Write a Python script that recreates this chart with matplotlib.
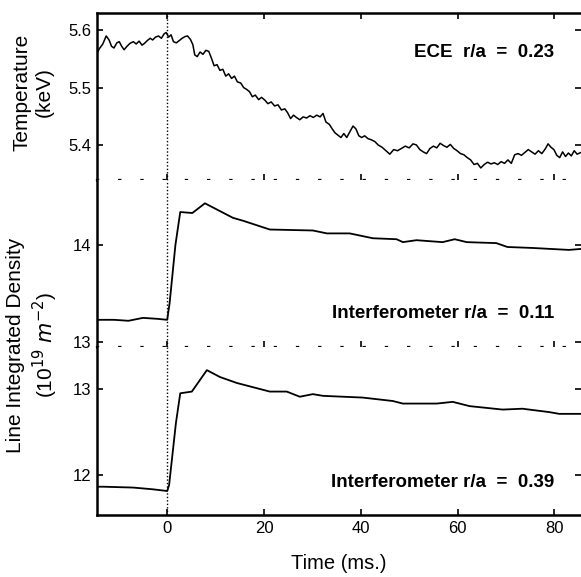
import matplotlib
matplotlib.use("Agg")
import matplotlib.pyplot as plt

plt.rcParams['font.family'] = ['Liberation Sans', 'DejaVu Sans']

# ECE temperature, r/a = 0.23 (keV)
t_ece = [-14.5, -14.0, -13.3, -12.6, -12.0, -11.5, -11.0, -10.4, -9.9, -9.4,
         -8.9, -8.3, -7.7, -7.0, -6.4, -5.8, -5.2, -4.7, -4.1, -3.5,
         -3.0, -2.4, -1.8, -1.2, -0.6, -0.2, 0.3, 0.8, 1.3, 1.9,
         2.5, 3.1, 3.7, 4.2, 4.8, 5.3, 5.7, 6.2, 6.8, 7.4,
         8.0, 8.6, 9.2, 9.7, 10.3, 10.9, 11.5, 12.1, 12.7, 13.3,
         13.9, 14.5, 15.2, 15.8, 16.4, 17.0, 17.6, 18.2, 18.9, 19.5,
         20.2, 20.8, 21.5, 22.2, 22.9, 23.6, 24.3, 24.9, 25.5, 26.1,
         26.7, 27.4, 28.1, 28.8, 29.5, 30.2, 30.9, 31.6, 32.2, 32.8,
         33.5, 34.1, 34.7, 35.3, 35.9, 36.5, 37.1, 37.8, 38.4, 39.0,
         39.6, 40.2, 40.8, 41.5, 42.2, 42.9, 43.6, 44.4, 45.2, 46.0,
         46.8, 47.6, 48.4, 49.2, 50.0, 50.8, 51.5, 52.2, 52.9, 53.6,
         54.3, 55.0, 55.7, 56.4, 57.1, 57.8, 58.5, 59.2, 59.9, 60.6,
         61.3, 62.0, 62.7, 63.4, 64.1, 64.8, 65.5, 66.2, 66.9, 67.6,
         68.3, 69.0, 69.7, 70.4, 71.1, 71.8, 72.5, 73.2, 73.9, 74.6,
         75.3, 76.0, 76.7, 77.4, 78.1, 78.7, 79.3, 79.9, 80.5, 81.1,
         81.7, 82.3, 82.9, 83.5, 84.1, 84.7, 85.5]
T_ece = [5.560, 5.568, 5.576, 5.590, 5.583, 5.572, 5.569, 5.578, 5.580, 5.572,
         5.566, 5.572, 5.577, 5.580, 5.576, 5.581, 5.574, 5.577, 5.582, 5.586,
         5.583, 5.588, 5.590, 5.586, 5.594, 5.596, 5.588, 5.592, 5.580, 5.578,
         5.582, 5.586, 5.589, 5.590, 5.584, 5.575, 5.557, 5.554, 5.562, 5.558,
         5.565, 5.563, 5.550, 5.538, 5.540, 5.530, 5.532, 5.520, 5.524, 5.516,
         5.520, 5.510, 5.508, 5.500, 5.497, 5.493, 5.484, 5.487, 5.479, 5.483,
         5.478, 5.472, 5.475, 5.468, 5.470, 5.461, 5.463, 5.456, 5.446, 5.452,
         5.448, 5.444, 5.449, 5.447, 5.451, 5.448, 5.452, 5.449, 5.455, 5.440,
         5.436, 5.428, 5.421, 5.417, 5.413, 5.420, 5.413, 5.424, 5.433, 5.428,
         5.416, 5.413, 5.416, 5.411, 5.409, 5.406, 5.400, 5.396, 5.390, 5.384,
         5.392, 5.390, 5.394, 5.398, 5.395, 5.402, 5.400, 5.392, 5.388, 5.385,
         5.394, 5.398, 5.395, 5.403, 5.399, 5.396, 5.401, 5.394, 5.390, 5.385,
         5.383, 5.378, 5.374, 5.366, 5.368, 5.360, 5.366, 5.370, 5.367, 5.369,
         5.366, 5.371, 5.368, 5.374, 5.368, 5.383, 5.385, 5.382, 5.387, 5.392,
         5.388, 5.384, 5.390, 5.385, 5.393, 5.402, 5.396, 5.392, 5.382, 5.378,
         5.388, 5.380, 5.386, 5.381, 5.390, 5.384, 5.387]

# Interferometer r/a = 0.11 (10^19 m^-2)
t_n1 = [-14.5, -11.0, -8.0, -5.0, -2.0, 0.0, 0.5, 1.7, 2.7, 5.2,
        7.8, 13.6, 15.7, 21.2, 30.1, 33.0, 37.7, 42.5, 47.4, 48.7,
        51.5, 56.9, 59.4, 61.9, 68.0, 70.3, 75.5, 83.0, 85.5]
n1 = [13.23, 13.23, 13.22, 13.25, 13.24, 13.23, 13.40, 14.00, 14.34, 14.33,
      14.43, 14.28, 14.25, 14.16, 14.15, 14.12, 14.12, 14.07, 14.06, 14.03,
      14.05, 14.03, 14.06, 14.03, 14.02, 13.98, 13.97, 13.95, 13.96]

# Interferometer r/a = 0.39 (10^19 m^-2)
t_n2 = [-14.5, -13.2, -7.0, -3.0, 0.0, 0.4, 1.8, 2.7, 5.1, 8.2,
        10.9, 14.4, 21.2, 24.7, 27.4, 30.1, 32.2, 40.4, 46.6, 48.7,
        55.7, 59.0, 62.5, 69.3, 73.4, 79.0, 81.0, 85.5]
n2 = [11.86, 11.86, 11.85, 11.83, 11.81, 11.88, 12.60, 12.95, 12.97, 13.22,
      13.14, 13.07, 12.97, 12.97, 12.91, 12.94, 12.92, 12.90, 12.86, 12.83,
      12.83, 12.85, 12.80, 12.76, 12.77, 12.73, 12.71, 12.71]

xticks = [0, 20, 40, 60, 80]

W, H = 581, 577
fig = plt.figure(figsize=(W / 100, H / 100), dpi=100)

def box(top, bottom):
    return [97 / W, (H - bottom) / H, (W - 97) / W, (bottom - top) / H]

ax1 = fig.add_axes(box(13, 180))
ax2 = fig.add_axes(box(180, 347))
ax3 = fig.add_axes(box(347, 515))

dots = (0, (0.5, 9.5))
for ax in (ax1, ax2, ax3):
    ax.set_xlim(-14.5, 85.5)
    ax.set_xticks(xticks)
    ax.axvline(0, color='black', lw=1.0, ls=(0, (1, 1.5)))
    ax.spines['right'].set_visible(False)
    ax.spines['left'].set_linewidth(1.8)
    ax.tick_params(direction='in', length=4, width=1.2, labelsize=12,
                   right=True, pad=4)
    ax.tick_params(axis='x', labelbottom=False)

ax1.plot(t_ece, T_ece, color='black', lw=1.1)
ax1.set_ylim(5.339, 5.63)
ax1.set_yticks([5.4, 5.5, 5.6])
ax1.spines['top'].set_linewidth(1.8)
ax1.spines['bottom'].set_linestyle(dots)
ax1.spines['bottom'].set_linewidth(1.6)
ax1.tick_params(axis='x', top=True)
ax1.text(80, 5.562, 'ECE  r/a  =  0.23', fontsize=13.5, fontweight='bold',
         ha='right', va='center')

ax2.plot(t_n1, n1, color='black', lw=1.3)
ax2.set_ylim(12.95, 14.67)
ax2.set_yticks([13, 14])
ax2.spines['top'].set_visible(False)
ax2.spines['bottom'].set_linestyle(dots)
ax2.spines['bottom'].set_linewidth(1.6)
ax2.text(80, 13.29, 'Interferometer r/a  =  0.11', fontsize=13.5,
         fontweight='bold', ha='right', va='center')

ax3.plot(t_n2, n2, color='black', lw=1.3)
ax3.set_ylim(11.53, 13.49)
ax3.set_yticks([12, 13])
ax3.spines['top'].set_visible(False)
ax3.spines['bottom'].set_linewidth(1.8)
ax3.tick_params(axis='x', labelbottom=True)
ax3.set_xlabel('Time (ms.)', fontsize=14.5, labelpad=13)
ax3.text(80, 11.91, 'Interferometer r/a  =  0.39', fontsize=13.5,
         fontweight='bold', ha='right', va='center')

fig.text(33 / W, 1 - 92 / H, 'Temperature\n(keV)', rotation=90, fontsize=15,
         ha='center', va='center', linespacing=1.25)
fig.text(33 / W, 1 - 345 / H, 'Line Integrated Density\n(10$^{19}$ $m^{-2}$)',
         rotation=90, fontsize=15, ha='center', va='center', linespacing=1.25)

fig.savefig('out.png', dpi=100)
